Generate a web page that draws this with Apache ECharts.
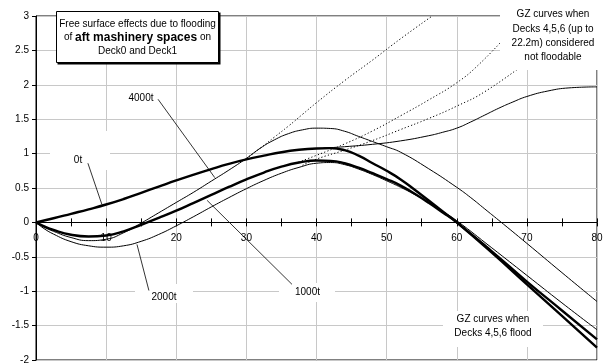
<!DOCTYPE html>
<html><head><meta charset="utf-8">
<script src="https://cdn.jsdelivr.net/npm/echarts@6/dist/echarts.min.js"></script>
<style>html,body{margin:0;padding:0;background:#fff}#c{width:603px;height:363px}</style>
</head><body><div id="c"></div>
<script>
// ---- tick labels ----
const xTickLabels = ['0','10','20','30','40','50','60','70','80'];
const yTickLabels = ['-2','-1.5','-1','-0.5','0','0.5','1','1.5','2','2.5','3'];

// ---- GZ curves when Decks 4,5,6 flood ----
const gz0tX = [0,2.5,5,7.5,10,12.5,15,17.5,20,22.5,25,27.5,30,32.5,35,37.5,40,42,44,46,48,50,52,54,56,58,60,65,70,75,80];
const gz0tY = [0,0.06,0.125,0.19,0.26,0.34,0.43,0.52,0.61,0.695,0.775,0.85,0.915,0.97,1.02,1.055,1.075,1.08,1.05,0.97,0.86,0.75,0.625,0.475,0.318,0.159,0.0,-0.44,-0.90,-1.36,-1.82];

const gz1000tX = [0,1,2.5,5,7.5,10,12.5,15,17.5,20,22.5,25,27.5,30,32.5,35,37.5,40,42,44,46,48,50,52,54,56,58,60,65,70,75,80];
const gz1000tY = [0,-0.05,-0.11,-0.18,-0.205,-0.19,-0.13,-0.035,0.065,0.17,0.285,0.40,0.515,0.625,0.725,0.81,0.87,0.90,0.895,0.86,0.795,0.715,0.63,0.535,0.415,0.285,0.145,0.0,-0.42,-0.86,-1.28,-1.70];

const gz2000tX = [0,1,2.5,5,7.5,10,12.5,15,17.5,20,22.5,25,27.5,30,32.5,35,37.5,40,42,44,46,48,50,52,54,56,58,60,65,70,75,80];
const gz2000tY = [0,-0.08,-0.17,-0.28,-0.34,-0.36,-0.34,-0.275,-0.175,-0.05,0.085,0.225,0.36,0.49,0.61,0.715,0.80,0.86,0.87,0.84,0.775,0.695,0.605,0.51,0.405,0.29,0.16,0.025,-0.37,-0.77,-1.17,-1.56];

const gz4000tX = [0,1,2.5,5,7.5,10,12.5,15,17.5,20,22.5,25,27.5,30,32,34,36,38,40,42,44,46,48,50,52,56,60,62,64,66,70,75,80];
const gz4000tY = [0,-0.06,-0.13,-0.22,-0.265,-0.245,-0.15,-0.01,0.14,0.29,0.44,0.60,0.76,0.93,1.08,1.20,1.29,1.345,1.37,1.365,1.325,1.25,1.175,1.10,1.02,0.78,0.51,0.36,0.195,0.03,-0.305,-0.73,-1.15];

// ---- GZ curves when Decks 4,5,6 (up to 22.2m) not floodable ----
const nf4000tX = [30,32,34,36,38,40,44,48,52,56.5];
const nf4000tY = [0.93,1.08,1.24,1.40,1.57,1.74,2.06,2.36,2.67,3.0];
const nf1000tX = [37,40,44,48,52,56,60,63,67];
const nf1000tY = [0.86,0.975,1.14,1.33,1.55,1.78,2.03,2.28,2.70];
const nf2000tX = [38,40,44,48,52,56,60,64,70];
const nf2000tY = [0.83,0.92,1.05,1.19,1.35,1.51,1.69,1.90,2.33];
const nf0tX = [41,44,48,52,56,58,60,62,64,66,68,70,73,76,80];
const nf0tY = [1.08,1.10,1.135,1.185,1.26,1.31,1.37,1.46,1.56,1.66,1.75,1.83,1.91,1.955,1.97];

// ---- leader lines (label -> curve) ----
const lead0tX = [7.4,9.4], lead0tY = [0.86,0.26];
const lead4000tX = [17.4,25.5], lead4000tY = [1.79,0.65];
const lead1000tX = [36.5,24.4], lead1000tY = [-0.90,0.32];
const lead2000tX = [16.1,14.4], lead2000tY = [-0.99,-0.32];

const FONT = '"Liberation Sans", Arial, sans-serif';
const zip = (xs, ys) => xs.map((x, i) => [x, ys[i]]);

// layout of the plot area (pixels)
const G = { left: 36, right: 6, top: 16, bottom: 3 };
const H = 363 - G.top - G.bottom;
const Y_MIN = -2, Y_MAX = 3;
const zeroPx = G.top + H * (Y_MAX - 0) / (Y_MAX - Y_MIN);

function curve(xs, ys, width, dotted) {
  return {
    type: 'line', data: zip(xs, ys), smooth: 0.5,
    symbol: 'none', silent: true, z: 2, clip: true,
    lineStyle: { color: '#000', width: width, type: dotted ? [1.2, 2.2] : 'solid' }
  };
}
function leader(xs, ys) {
  return { type: 'line', data: zip(xs, ys), symbol: 'none', silent: true, z: 10,
    lineStyle: { color: '#000', width: 0.8 } };
}
const hiddenY = (gi) => ({ type: 'value', gridIndex: gi, min: 0, max: 1, show: false });

const chart = echarts.init(document.getElementById('c'), null, { renderer: 'canvas' });
const option = {
  animation: false,
  backgroundColor: '#fff',
  textStyle: { fontFamily: FONT },
  grid: [
    { left: G.left, right: G.right, top: G.top, bottom: G.bottom, show: true, borderColor: '#000', borderWidth: 1, outerBoundsMode: 'none', containLabel: false },
    { left: G.left, right: G.right, top: zeroPx, bottom: G.bottom, show: false, outerBoundsMode: 'none', containLabel: false },
    { left: G.left, right: G.right, top: G.top, bottom: 363 - zeroPx, show: false, outerBoundsMode: 'none', containLabel: false }
  ],
  xAxis: [
    { type: 'value', gridIndex: 0, min: 0, max: 80, interval: 10, position: 'bottom',
      axisLine: { show: false, onZero: false }, axisTick: { show: false }, axisLabel: { show: false },
      splitLine: { show: true, lineStyle: { color: '#c8c8c8', width: 1 } } },
    // zero line with downward ticks and labels
    { type: 'value', gridIndex: 1, min: 0, max: 80, interval: 5, position: 'top',
      axisLine: { show: true, onZero: false, lineStyle: { color: '#000', width: 1 } },
      axisTick: { show: true, inside: true, length: 4, lineStyle: { color: '#000' } },
      axisLabel: { show: true, inside: true, margin: 11, fontSize: 10, color: '#000', fontFamily: FONT,
        formatter: (v) => (v % 10 === 0 ? xTickLabels[v / 10] : '') },
      splitLine: { show: false } },
    // upward ticks on the zero line
    { type: 'value', gridIndex: 2, min: 0, max: 80, interval: 5, position: 'bottom',
      axisLine: { show: false, onZero: false },
      axisTick: { show: true, inside: true, length: 4, lineStyle: { color: '#000' } },
      axisLabel: { show: false }, splitLine: { show: false } }
  ],
  yAxis: [
    { type: 'value', gridIndex: 0, min: Y_MIN, max: Y_MAX, interval: 0.5,
      axisLine: { show: true, onZero: false, lineStyle: { color: '#000' } },
      axisTick: { show: true, length: 4, lineStyle: { color: '#000' } },
      axisLabel: { fontSize: 10, color: '#000', margin: 7, fontFamily: FONT,
        formatter: (v) => yTickLabels[Math.round((v - Y_MIN) / 0.5)] },
      splitLine: { show: true, lineStyle: { color: '#c8c8c8', width: 1 } } },
    hiddenY(1), hiddenY(2)
  ],
  series: [
    curve(gz4000tX, gz4000tY, 1),
    curve(gz2000tX, gz2000tY, 1),
    curve(gz1000tX, gz1000tY, 2.4),
    curve(gz0tX, gz0tY, 2.4),
    curve(nf4000tX, nf4000tY, 1, true),
    curve(nf1000tX, nf1000tY, 1, true),
    curve(nf2000tX, nf2000tY, 1, true),
    curve(nf0tX, nf0tY, 1),
    leader(lead0tX, lead0tY),
    leader(lead4000tX, lead4000tY),
    leader(lead1000tX, lead1000tY),
    leader(lead2000tX, lead2000tY)
  ],
  graphic: [
    { type: 'rect', z: 5, shape: { x: 57.5, y: 12.5, width: 163, height: 52 }, style: { fill: '#000' } },
    { type: 'rect', z: 6, shape: { x: 56.5, y: 11.5, width: 162, height: 51 }, style: { fill: '#fff', stroke: '#000', lineWidth: 1 } },
    { type: 'text', z: 7, style: { text: 'Free surface effects due to flooding', x: 137.5, y: 24, align: 'center', verticalAlign: 'middle', font: '10px ' + FONT, fill: '#000' } },
    { type: 'text', z: 7, style: { text: '{n|of }{b|aft mashinery spaces}{n| on}', x: 137.5, y: 37.5, align: 'center', verticalAlign: 'middle', fill: '#000',
        rich: { n: { fontSize: 10, fontFamily: FONT, fill: '#000' }, b: { fontSize: 12, fontWeight: 'bold', fontFamily: FONT, fill: '#000' } } } },
    { type: 'text', z: 7, style: { text: 'Deck0 and Deck1', x: 137.5, y: 51, align: 'center', verticalAlign: 'middle', font: '10px ' + FONT, fill: '#000' } },
    { type: 'rect', z: 5, shape: { x: 500, y: 0, width: 103, height: 70 }, style: { fill: '#fff' } },
    { type: 'text', z: 7, style: { text: 'GZ curves when\nDecks 4,5,6 (up to\n22.2m) considered\nnot floodable', x: 553, y: 7.5, align: 'center', verticalAlign: 'top', font: '10px ' + FONT, lineHeight: 14.3, fill: '#000' } },
    { type: 'rect', z: 5, shape: { x: 443, y: 311, width: 100, height: 36 }, style: { fill: '#fff' } },
    { type: 'text', z: 7, style: { text: 'GZ curves when\nDecks 4,5,6 flood', x: 493, y: 312, align: 'center', verticalAlign: 'top', font: '10px ' + FONT, lineHeight: 14, fill: '#000' } },
    { type: 'rect', z: 5, shape: { x: 135, y: 284, width: 58, height: 19 }, style: { fill: '#fff' } },
    { type: 'text', z: 7, style: { text: '2000t', x: 164, y: 297, align: 'center', verticalAlign: 'middle', font: '10px ' + FONT, fill: '#000' } },
    { type: 'rect', z: 5, shape: { x: 279, y: 283, width: 56, height: 19 }, style: { fill: '#fff' } },
    { type: 'text', z: 7, style: { text: '1000t', x: 307.5, y: 292, align: 'center', verticalAlign: 'middle', font: '10px ' + FONT, fill: '#000' } },
    { type: 'rect', z: 5, shape: { x: 50, y: 131, width: 60, height: 39 }, style: { fill: '#fff' } },
    { type: 'text', z: 7, style: { text: '0t', x: 78, y: 160, align: 'center', verticalAlign: 'middle', font: '10px ' + FONT, fill: '#000' } },
    { type: 'text', z: 7, style: { text: '4000t', x: 141, y: 98, align: 'center', verticalAlign: 'middle', font: '10px ' + FONT, fill: '#000' } }
  ]
};
chart.setOption(option);
</script>
</body></html>
